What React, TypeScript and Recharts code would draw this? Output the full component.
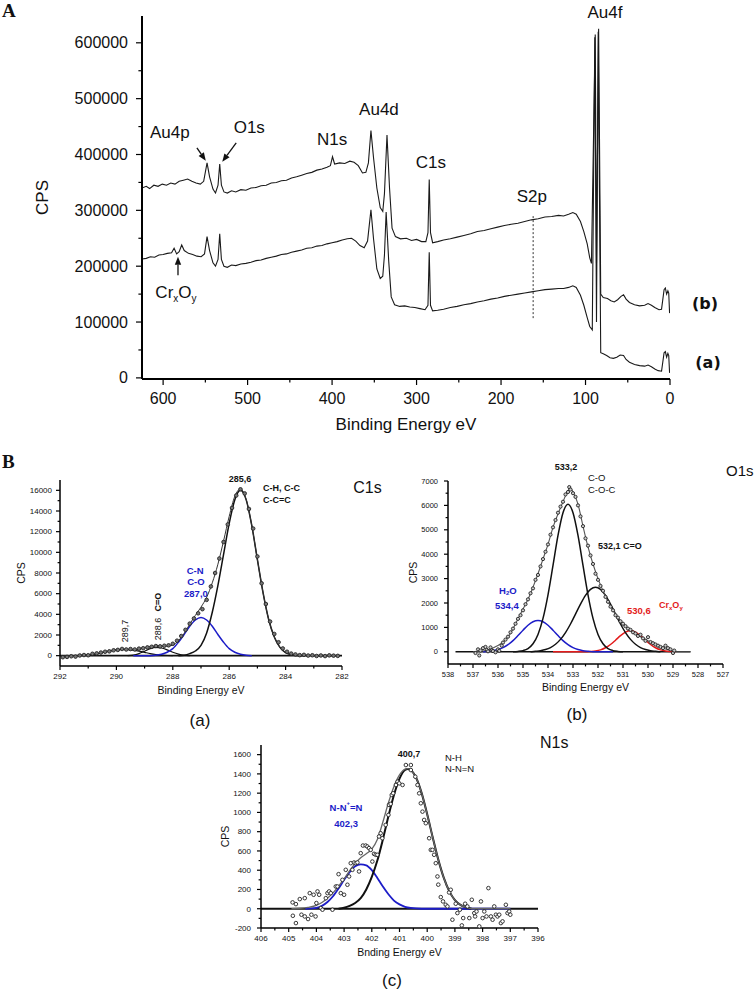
import React from "react";
import {
  ComposedChart,
  Line,
  Scatter,
  XAxis,
  YAxis,
  ReferenceDot,
  ReferenceLine,
  Label,
} from "recharts";

const SANS = "'Liberation Sans', Arial, sans-serif";
const SERIF = "'Liberation Serif', 'Times New Roman', serif";
const BLUE = "#1c1cc8";
const RED = "#e31b1b";

// ---------- A: survey spectra [binding energy, CPS] ----------
const surveyB = [
  [625, 340000], [620, 343000], [616, 339000], [611, 345000], [606, 343000], [601, 347000],
  [596, 345000], [591, 349000], [586, 347000], [581, 352000], [576, 354000], [571, 356000],
  [566, 352000], [561, 349000], [556, 347000], [552, 352000], [548, 385000], [545, 360000],
  [541, 338000], [538, 331000], [535, 345000], [533, 383000], [531, 345000], [528, 333000],
  [524, 331000], [519, 335000], [514, 333000], [508, 337000], [502, 336000], [496, 340000],
  [490, 341000], [484, 344000], [478, 345000], [472, 349000], [466, 350000], [460, 353000],
  [454, 354000], [448, 358000], [442, 360000], [436, 363000], [430, 366000], [424, 368000],
  [418, 372000], [412, 374000], [406, 377000], [402, 380000], [399.5, 396000], [397, 383000],
  [391, 385000], [385, 384000], [379, 388000], [374, 386000], [369, 380000], [364, 367000],
  [360, 368000], [357, 385000], [354, 443000], [351, 395000], [347, 340000], [343, 305000],
  [340, 298000], [338, 330000], [335, 435000], [332, 340000], [329, 268000], [325, 253000],
  [319, 249000], [312, 250000], [306, 246000], [300, 248000], [294, 244000], [289, 244000],
  [286.5, 260000], [285, 355000], [283.5, 260000], [281, 242000], [275, 244000], [268, 247000],
  [260, 249000], [252, 252000], [244, 255000], [236, 258000], [228, 262000], [220, 264000],
  [212, 267000], [204, 270000], [196, 273000], [188, 275000], [180, 277000], [172, 280000],
  [164, 283000], [156, 285000], [148, 288000], [140, 289000], [132, 291000], [126, 290000],
  [120, 293000], [115, 296000], [111, 293000], [106, 280000], [102, 262000], [98, 240000],
  [95, 215000], [93, 205000], [88.5, 615000], [87, 205000], [84.5, 625000], [82, 150000],
  [79, 144000], [74, 142000], [70, 138000], [66, 136000], [62, 140000], [58, 146000],
  [55, 149000], [52, 141000], [48, 135000], [42, 131000], [36, 129000], [30, 130000],
  [26, 133000], [22, 130000], [18, 126000], [13, 122000], [10, 123000], [7, 158000],
  [5.5, 161000], [4, 150000], [2.5, 156000], [1.5, 152000], [0.5, 116000],
];

const surveyA = [
  [625, 213000], [620, 214000], [615, 217000], [610, 216000], [605, 220000], [600, 221000],
  [595, 223000], [590, 224000], [587, 232000], [584, 222000], [581, 226000], [578, 238000],
  [575, 228000], [570, 223000], [565, 221000], [560, 218000], [555, 217000], [551, 222000],
  [548, 253000], [545, 228000], [541, 206000], [538, 200000], [535, 212000], [533, 258000],
  [531, 212000], [528, 200000], [524, 198000], [519, 202000], [514, 201000], [508, 204000],
  [502, 205000], [496, 207000], [490, 210000], [484, 211000], [478, 214000], [472, 216000],
  [466, 218000], [460, 221000], [454, 222000], [448, 225000], [442, 227000], [436, 229000],
  [430, 232000], [424, 233000], [418, 236000], [412, 237000], [406, 240000], [400, 242000],
  [394, 244000], [388, 247000], [382, 249000], [377, 250000], [372, 245000], [367, 237000],
  [362, 233000], [358, 245000], [354, 301000], [351, 250000], [347, 195000], [343, 178000],
  [340, 182000], [338, 220000], [336, 297000], [333, 210000], [330, 145000], [326, 131000],
  [320, 128000], [314, 129000], [308, 127000], [302, 126000], [296, 124000], [290, 122000],
  [286.5, 130000], [285, 225000], [283.5, 130000], [281, 120000], [275, 121000], [268, 123000],
  [260, 126000], [252, 128000], [244, 131000], [236, 133000], [228, 136000], [220, 138000],
  [212, 141000], [204, 143000], [196, 146000], [188, 148000], [180, 150000], [172, 152000],
  [164, 154000], [156, 156000], [148, 158000], [140, 159000], [132, 160000], [126, 160000],
  [120, 162000], [115, 165000], [111, 162000], [106, 148000], [102, 130000], [98, 108000],
  [95, 92000], [92, 86000], [89, 610000], [87, 100000], [85, 620000], [82, 45000],
  [79, 43000], [75, 40000], [71, 36000], [67, 35000], [63, 37000], [59, 41000],
  [55, 40000], [52, 33000], [48, 28000], [42, 24000], [36, 22000], [30, 21000],
  [26, 23000], [22, 20000], [18, 16000], [14, 13000], [10, 12000], [7, 45000],
  [5.5, 47000], [4, 37000], [2.5, 44000], [1.5, 40000], [0.5, 9000],
];

const surveyXTicks = [0, 50, 100, 150, 200, 250, 300, 350, 400, 450, 500, 550, 600];
const surveyYTicks = [
  0, 50000, 100000, 150000, 200000, 250000, 300000, 350000, 400000, 450000, 500000, 550000, 600000,
];

// ---------- B(a): C1s ----------
const c1sPoints = [
  [291.9, -150], [291.75, -120], [291.6, -60], [291.45, -90], [291.3, 20], [291.15, 60],
  [291.0, 40], [290.85, 180], [290.7, 220], [290.55, 300], [290.4, 380], [290.25, 420],
  [290.1, 520], [289.95, 560], [289.8, 650], [289.65, 600], [289.5, 640], [289.35, 600],
  [289.2, 680], [289.05, 720], [288.9, 800], [288.75, 860], [288.6, 930], [288.45, 900],
  [288.3, 960], [288.15, 1000], [288.0, 1150], [287.85, 1450], [287.7, 1900], [287.55, 2500],
  [287.4, 3100], [287.25, 3600], [287.1, 4100], [286.95, 4500], [286.8, 5400], [286.65, 6700],
  [286.5, 8000], [286.35, 9400], [286.2, 11000], [286.05, 12700], [285.9, 14300], [285.75, 15500],
  [285.6, 16100], [285.45, 15700], [285.3, 14200], [285.15, 12300], [285.0, 9600], [284.85, 7000],
  [284.7, 5000], [284.55, 3300], [284.4, 2100], [284.25, 1300], [284.1, 700], [283.95, 380],
  [283.8, 200], [283.65, 120], [283.5, 50], [283.35, 80], [283.2, 10], [283.05, 40],
  [282.9, -30], [282.75, 20], [282.6, -40], [282.45, 30], [282.3, 0], [282.15, -20],
];
const c1sEnvelope = [
  [292.0, 0], [291.6, 10], [291.2, 30], [291.0, 70], [290.8, 140], [290.6, 240], [290.4, 360],
  [290.2, 480], [290.0, 570], [289.8, 610], [289.6, 610], [289.4, 590], [289.2, 640], [289.0, 750],
  [288.8, 880], [288.6, 930], [288.4, 920], [288.2, 920], [288.0, 1020], [287.8, 1450],
  [287.6, 2140], [287.4, 3050], [287.2, 3900], [287.0, 4700], [286.8, 5650], [286.6, 7050],
  [286.4, 8850], [286.2, 11100], [286.0, 13480], [285.8, 15430], [285.6, 16130], [285.4, 15130],
  [285.2, 12600], [285.0, 9300], [284.8, 6100], [284.6, 3500], [284.4, 1800], [284.2, 800],
  [284.0, 300], [283.8, 100], [283.6, 20], [283.0, 0], [282.2, 0],
];
const c1sMain = [
  [287.8, 0], [287.6, 50], [287.4, 200], [287.2, 450], [287.0, 1000], [286.8, 2200], [286.6, 4200],
  [286.4, 6800], [286.2, 9800], [286.0, 12800], [285.8, 15100], [285.6, 16000], [285.4, 15100],
  [285.2, 12600], [285.0, 9300], [284.8, 6100], [284.6, 3500], [284.4, 1800], [284.2, 800],
  [284.0, 300], [283.8, 100], [283.6, 20], [283.4, 0],
];
const c1sCN = [
  [289.4, 0], [288.8, 0], [288.6, 30], [288.4, 130], [288.2, 330], [288.0, 680], [287.8, 1300],
  [287.6, 2050], [287.4, 2850], [287.2, 3450], [287.0, 3700], [286.8, 3450], [286.6, 2850],
  [286.4, 2050], [286.2, 1300], [286.0, 680], [285.8, 330], [285.6, 130], [285.4, 30], [285.2, 0],
];
const c1sCdO = [
  [289.6, 0], [289.4, 50], [289.2, 200], [289.0, 430], [288.8, 680], [288.6, 800], [288.4, 740],
  [288.2, 560], [288.0, 330], [287.8, 150], [287.6, 40], [287.4, 0],
];
const c1s289 = [
  [291.4, 0], [291.2, 20], [291.0, 60], [290.8, 130], [290.6, 230], [290.4, 350], [290.2, 470],
  [290.0, 560], [289.8, 600], [289.6, 590], [289.4, 530], [289.2, 440], [289.0, 320], [288.8, 200],
  [288.6, 110], [288.4, 50], [288.2, 15], [288.0, 0],
];
const c1sBase = [[292, 0], [282, 0]];
const c1sXTicks = [282, 283, 284, 285, 286, 287, 288, 289, 290, 291, 292];
const c1sYTicks = [
  0, 1000, 2000, 3000, 4000, 5000, 6000, 7000, 8000, 9000, 10000, 11000, 12000, 13000, 14000, 15000, 16000,
];

// ---------- B(b): O1s ----------
const o1sPoints = [
  [536.9, -50], [536.8, 100], [536.75, -150], [536.7, 50], [536.6, 150], [536.5, 200],
  [536.45, 80], [536.4, 20], [536.3, 180], [536.25, 60], [536.2, 30], [536.1, -20],
  [536.0, 100], [535.95, 40], [535.85, 250], [535.8, 380], [535.7, 500], [535.6, 620],
  [535.5, 800], [535.4, 950], [535.3, 1150], [535.2, 1350], [535.1, 1500], [535.0, 1700],
  [534.9, 1950], [534.8, 2150], [534.7, 2400], [534.6, 2600], [534.5, 2950], [534.4, 3150],
  [534.3, 3500], [534.2, 3800], [534.1, 4100], [534.0, 4400], [533.9, 4800], [533.8, 5100],
  [533.7, 5400], [533.6, 5700], [533.5, 5950], [533.4, 6150], [533.3, 6450], [533.2, 6550],
  [533.15, 6750], [533.1, 6650], [533.0, 6500], [532.9, 6350], [532.8, 6000], [532.7, 5550],
  [532.6, 5150], [532.5, 4650], [532.4, 4350], [532.3, 3950], [532.2, 3600], [532.1, 3200],
  [532.0, 2950], [531.9, 2700], [531.8, 2500], [531.7, 2250], [531.6, 2050], [531.5, 1850],
  [531.4, 1700], [531.3, 1500], [531.2, 1400], [531.1, 1250], [531.0, 1150], [530.9, 1050],
  [530.8, 950], [530.7, 900], [530.6, 800], [530.5, 750], [530.4, 650], [530.3, 700],
  [530.2, 550], [530.1, 450], [530.0, 600], [529.9, 400], [529.8, 350], [529.7, 300],
  [529.6, 250], [529.5, 200], [529.4, 150], [529.3, 250], [529.2, 150], [529.1, 100],
  [529.0, -50], [528.95, 50],
];
const o1sEnvelope = [
  [537.0, 0], [536.8, 10], [536.6, 30], [536.4, 80], [536.2, 160], [536.0, 260], [535.8, 400],
  [535.6, 600], [535.4, 950], [535.2, 1350], [535.0, 1750], [534.8, 2150], [534.6, 2650],
  [534.4, 3200], [534.2, 3800], [534.0, 4400], [533.8, 5100], [533.6, 5650], [533.4, 6150],
  [533.2, 6600], [533.1, 6700], [533.0, 6550], [532.8, 6050], [532.6, 5150], [532.4, 4300],
  [532.2, 3600], [532.0, 3000], [531.8, 2500], [531.6, 2050], [531.4, 1700], [531.2, 1400],
  [531.0, 1150], [530.8, 950], [530.6, 800], [530.4, 680], [530.2, 560], [530.0, 450],
  [529.8, 350], [529.6, 250], [529.4, 160], [529.2, 80], [529.0, 30], [528.8, 0], [528.3, 0],
];
const o1sMain = [
  [535.4, 0], [535.2, 16], [535.0, 49], [534.8, 134], [534.6, 330], [534.4, 712], [534.2, 1368],
  [534.0, 2335], [533.8, 3540], [533.6, 4770], [533.4, 5700], [533.2, 6050], [533.0, 5700],
  [532.8, 4770], [532.6, 3540], [532.4, 2335], [532.2, 1368], [532.0, 712], [531.8, 330],
  [531.6, 134], [531.4, 49], [531.2, 16], [531.0, 0],
];
const o1sCdO = [
  [534.7, 0], [534.5, 21], [534.3, 45], [534.1, 91], [533.9, 173], [533.7, 308], [533.5, 509],
  [533.3, 787], [533.1, 1140], [532.9, 1545], [532.7, 1955], [532.5, 2315], [532.3, 2560],
  [532.1, 2650], [531.9, 2560], [531.7, 2315], [531.5, 1955], [531.3, 1545], [531.1, 1140],
  [530.9, 787], [530.7, 509], [530.5, 308], [530.3, 173], [530.1, 91], [529.9, 45], [529.7, 21],
  [529.5, 0],
];
const o1sH2O = [
  [536.6, 0], [536.4, 22], [536.2, 47], [536.0, 93], [535.8, 173], [535.6, 295], [535.4, 460],
  [535.2, 667], [535.0, 885], [534.8, 1090], [534.6, 1230], [534.4, 1280], [534.2, 1230],
  [534.0, 1090], [533.8, 885], [533.6, 667], [533.4, 460], [533.2, 295], [533.0, 173],
  [532.8, 93], [532.6, 47], [532.4, 22], [532.2, 5], [531.4, 0],
];
const o1sCrO = [
  [533.8, 0], [532.5, 0], [532.3, 13], [532.1, 34], [531.9, 80], [531.7, 165], [531.5, 300],
  [531.3, 475], [531.1, 660], [530.9, 805], [530.7, 860], [530.5, 805], [530.3, 660],
  [530.1, 475], [529.9, 300], [529.7, 165], [529.5, 80], [529.3, 34], [529.1, 13], [528.9, 0],
];
const o1sBase = [[537.7, 0], [528.3, 0]];
const o1sXTicks = [
  527, 527.5, 528, 528.5, 529, 529.5, 530, 530.5, 531, 531.5, 532, 532.5, 533, 533.5, 534, 534.5,
  535, 535.5, 536, 536.5, 537, 537.5, 538,
];
const o1sYTicks = [0, 500, 1000, 1500, 2000, 2500, 3000, 3500, 4000, 4500, 5000, 5500, 6000, 6500, 7000];

// ---------- B(c): N1s ----------
const n1sPoints = [
  [404.86, 66], [404.74, 48], [404.85, -73], [404.74, -149], [404.6, 100], [404.54, -62],
  [404.42, 110], [404.42, -80], [404.3, -107], [404.24, 162], [404.18, -62], [404.1, 145],
  [404.03, -80], [404.0, 59], [403.96, 180], [403.9, 145], [403.84, 7], [403.78, -10],
  [403.66, 110], [403.6, 162], [403.54, 180], [403.48, 162], [403.42, -10], [403.3, 231],
  [403.24, 231], [403.2, 359], [403.12, 162], [403.06, 300], [403.0, 145], [402.94, 404],
  [402.88, 249], [402.82, 335], [402.76, 473], [402.7, 404], [402.64, 480], [402.58, 473],
  [402.52, 480], [402.46, 387], [402.4, 577], [402.32, 656], [402.22, 656], [402.16, 646],
  [402.1, 629], [402.04, 611], [401.98, 490], [401.92, 570], [401.86, 560], [401.8, 560],
  [401.74, 750], [401.68, 784], [401.62, 732], [401.5, 870], [401.4, 974], [401.38, 1078],
  [401.32, 1088], [401.28, 1181], [401.23, 1199], [401.13, 1285], [401.07, 1319], [401.01, 1302],
  [400.89, 1285], [400.77, 1492], [400.59, 1492], [400.59, 1440], [400.43, 1371], [400.35, 1285],
  [400.29, 1198], [400.23, 1095], [400.17, 1008], [400.11, 922], [400.05, 888], [399.93, 732],
  [399.87, 611], [399.81, 611], [399.75, 560], [399.69, 473], [399.63, 335], [399.6, 250],
  [399.51, 121], [399.43, 76], [399.33, 41], [399.27, 24], [399.21, 169], [399.15, 197],
  [399.09, -114], [398.97, 52], [398.91, -45], [398.82, -10], [398.75, -173], [398.7, -97],
  [398.63, 52], [398.55, 24], [398.48, -97], [398.39, 93], [398.3, -45], [398.27, -80],
  [398.22, -28], [398.12, -183], [398.06, 76], [398.0, -97], [397.94, -28], [397.86, -80],
  [397.79, 214], [397.7, -80], [397.64, -114], [397.58, 24], [397.52, -62], [397.46, -80],
  [397.4, -62], [397.34, -149], [397.28, -131], [397.16, 41], [397.1, -45], [397.04, -28],
  [397.0, -62],
];
const n1sEnvelope = [
  [404.9, 0], [404.6, 5], [404.3, 15], [404.0, 35], [403.8, 65], [403.6, 110], [403.4, 165],
  [403.2, 235], [403.0, 310], [402.8, 395], [402.6, 470], [402.4, 530], [402.2, 570], [402.0, 620],
  [401.8, 720], [401.6, 900], [401.4, 1100], [401.2, 1270], [401.0, 1390], [400.8, 1450],
  [400.7, 1455], [400.6, 1440], [400.4, 1360], [400.2, 1200], [400.0, 980], [399.8, 740],
  [399.6, 510], [399.4, 320], [399.2, 180], [399.0, 90], [398.8, 40], [398.6, 15], [398.4, 0],
  [397.0, 0],
];
const n1sMain = [
  [403.2, 0], [403.0, 10], [402.8, 30], [402.6, 60], [402.4, 110], [402.2, 200], [402.0, 330],
  [401.8, 500], [401.6, 720], [401.4, 960], [401.2, 1180], [401.0, 1350], [400.8, 1440],
  [400.7, 1450], [400.6, 1440], [400.4, 1360], [400.2, 1200], [400.0, 980], [399.8, 740],
  [399.6, 510], [399.4, 320], [399.2, 180], [399.0, 90], [398.8, 40], [398.6, 15], [398.4, 0],
];
const n1sAzo = [
  [404.4, 0], [404.0, 10], [403.8, 30], [403.6, 70], [403.4, 130], [403.2, 210], [403.0, 300],
  [402.8, 380], [402.6, 440], [402.4, 460], [402.2, 450], [402.0, 400], [401.8, 320], [401.6, 230],
  [401.4, 150], [401.2, 85], [401.0, 45], [400.8, 20], [400.6, 8], [400.2, 0], [397.0, 0],
];
const n1sBase = [[406, 0], [396, 0]];
const n1sXTicks = [
  396, 396.5, 397, 397.5, 398, 398.5, 399, 399.5, 400, 400.5, 401, 401.5, 402, 402.5, 403, 403.5,
  404, 404.5, 405, 405.5, 406,
];
const n1sYTicks = [
  -200, -100, 0, 100, 200, 300, 400, 500, 600, 700, 800, 900, 1000, 1100, 1200, 1300, 1400, 1500, 1600,
];

const pts = (a: number[][]) => a.map(([x, y]) => ({ x, y }));

// ---------- helpers ----------
const isMajor = (v: number, every: number) => Math.abs(v / every - Math.round(v / every)) < 1e-6;

const bottomTick = (every: number, fs: number, len: number, gap: number) => (p: any) => {
  const v = Number(p.payload?.value);
  const major = isMajor(v, every);
  return (
    <g>
      <line x1={p.x} x2={p.x} y1={p.y} y2={p.y + (major ? len : len * 0.6)} stroke="#000" strokeWidth={1.2} />
      {major && (
        <text x={p.x} y={p.y + len + gap + fs * 0.8} textAnchor="middle" fontSize={fs} fontFamily={SANS} fill="#111">
          {v}
        </text>
      )}
    </g>
  );
};

const leftTick = (every: number, fs: number, len: number, gap: number) => (p: any) => {
  const v = Number(p.payload?.value);
  const major = isMajor(v, every);
  return (
    <g>
      <line x1={p.x} x2={p.x - (major ? len : len * 0.6)} y1={p.y} y2={p.y} stroke="#000" strokeWidth={1.2} />
      {major && (
        <text x={p.x - len - gap} y={p.y + fs * 0.35} textAnchor="end" fontSize={fs} fontFamily={SANS} fill="#111">
          {v}
        </text>
      )}
    </g>
  );
};

const yTitle = (text: string, fs: number, dx: number) => (p: any) => {
  const vb = p.viewBox ?? { x: 0, y: 0, width: 0, height: 0 };
  const cx = vb.x + dx;
  const cy = vb.y + vb.height / 2;
  return (
    <text x={cx} y={cy} transform={`rotate(-90 ${cx} ${cy})`} textAnchor="middle" dominantBaseline="central"
      fontSize={fs} fontFamily={SANS} fill="#111">
      {text}
    </text>
  );
};

const xTitle = (text: string, fs: number, dy: number) => (p: any) => {
  const vb = p.viewBox ?? { x: 0, y: 0, width: 0, height: 0 };
  return (
    <text x={vb.x + vb.width / 2} y={vb.y + dy} textAnchor="middle" dominantBaseline="central"
      fontSize={fs} fontFamily={SANS} fill="#111">
      {text}
    </text>
  );
};

type NoteOpts = {
  size?: number;
  color?: string;
  weight?: string | number;
  anchor?: "start" | "middle" | "end";
  rotate?: number;
  family?: string;
};

const note = (key: string, x: number, y: number, content: React.ReactNode, o: NoteOpts = {}) => (
  <ReferenceDot
    key={key}
    x={x}
    y={y}
    r={1}
    ifOverflow="visible"
    shape={(p: any) => (
      <text
        x={p.cx}
        y={p.cy}
        textAnchor={o.anchor ?? "middle"}
        dominantBaseline="central"
        fontSize={o.size ?? 9}
        fontWeight={o.weight ?? "normal"}
        fontFamily={o.family ?? SANS}
        fill={o.color ?? "#111"}
        transform={o.rotate ? `rotate(${o.rotate} ${p.cx} ${p.cy})` : undefined}
      >
        {content}
      </text>
    )}
  />
);

const arrow = (key: string, from: number[], to: number[]) => (
  <ReferenceLine
    key={key}
    segment={[{ x: from[0], y: from[1] }, { x: to[0], y: to[1] }]}
    ifOverflow="visible"
    stroke="#111"
    shape={(p: any) => {
      const { x1, y1, x2, y2 } = p;
      const a = Math.atan2(y2 - y1, x2 - x1);
      const h = 8;
      const w = 3.2;
      const bx = x2 - h * Math.cos(a);
      const by = y2 - h * Math.sin(a);
      const px = -Math.sin(a) * w;
      const py = Math.cos(a) * w;
      return (
        <g>
          <line x1={x1} y1={y1} x2={bx} y2={by} stroke="#111" strokeWidth={1.3} />
          <polygon points={`${x2},${y2} ${bx + px},${by + py} ${bx - px},${by - py}`} fill="#111" />
        </g>
      );
    }}
  />
);

const dotShape = (r: number, fill: string) => (p: any) => (
  <circle cx={p.cx} cy={p.cy} r={r} fill={fill} stroke="#222" strokeWidth={0.9} />
);

const axisLine = (w: number) => ({ stroke: "#000", strokeWidth: w });

// ---------- charts ----------
const SurveyChart = () => {
  const big = { size: 17 };
  return (
    <ComposedChart width={755} height={440} margin={{ top: 16, right: 85, bottom: 11, left: 0 }}>
      <XAxis dataKey="x" type="number" domain={[0, 625]} reversed allowDataOverflow ticks={surveyXTicks}
        interval={0} tickSize={0} tickMargin={0} tickLine={false} tick={bottomTick(100, 16, 6, 6)}
        height={50} axisLine={axisLine(2)}>
        <Label content={xTitle("Binding Energy eV", 17, 45)} />
      </XAxis>
      <YAxis type="number" domain={[-2000, 648000]} allowDataOverflow ticks={surveyYTicks} interval={0}
        tickSize={0} tickMargin={0} tickLine={false} tick={leftTick(100000, 16, 6, 8)} width={142}
        axisLine={axisLine(2)}>
        <Label content={yTitle("CPS", 17, 42)} />
      </YAxis>
      <Line data={pts(surveyB)} dataKey="y" type="linear" dot={false} stroke="#1a1a1a" strokeWidth={1.1}
        isAnimationActive={false} />
      <Line data={pts(surveyA)} dataKey="y" type="linear" dot={false} stroke="#1a1a1a" strokeWidth={1.1}
        isAnimationActive={false} />
      <ReferenceLine segment={[{ x: 162, y: 107000 }, { x: 162, y: 292000 }]} ifOverflow="visible"
        stroke="#333" strokeWidth={1} strokeDasharray="2 2" />
      {arrow("ar-au4p", [560, 412000], [549.5, 389000])}
      {arrow("ar-o1s", [513.5, 421000], [530, 387000])}
      {arrow("ar-cr", [582.4, 184000], [582.4, 217000])}
      {note("au4p", 592, 439000, "Au4p", big)}
      {note("o1s", 498, 448000, "O1s", big)}
      {note("n1s", 400, 426000, "N1s", big)}
      {note("au4d", 344.5, 480000, "Au4d", big)}
      {note("c1s", 283, 385000, "C1s", big)}
      {note("s2p", 163.5, 324000, "S2p", big)}
      {note("au4f", 77, 654000, "Au4f", big)}
      {note("lb", -41.5, 134000, "(b)", { size: 16, weight: "bold", family: "'DejaVu Sans', sans-serif" })}
      {note("la", -45, 27000, "(a)", { size: 16, weight: "bold", family: "'DejaVu Sans', sans-serif" })}
      {note(
        "crxoy",
        584.8,
        154000,
        <>
          <tspan>Cr</tspan>
          <tspan fontSize={10} dy={6}>x</tspan>
          <tspan dy={-6}>O</tspan>
          <tspan fontSize={10} dy={6}>y</tspan>
        </>,
        big
      )}
    </ComposedChart>
  );
};

const C1sChart = () => (
  <ComposedChart width={400} height={270} margin={{ top: 40, right: 58, bottom: 14, left: 0 }}>
    <XAxis dataKey="x" type="number" domain={[282, 292]} reversed allowDataOverflow ticks={c1sXTicks}
      interval={0} tickSize={0} tickMargin={0} tickLine={false} tick={bottomTick(2, 8, 4, 3)} height={30}
      axisLine={axisLine(1.5)}>
      <Label content={xTitle("Binding Energy eV", 10.5, 24)} />
    </XAxis>
    <YAxis type="number" domain={[-1000, 17000]} allowDataOverflow ticks={c1sYTicks} interval={0}
      tickSize={0} tickMargin={0} tickLine={false} tick={leftTick(2000, 8, 4, 4)} width={60}
      axisLine={axisLine(1.5)}>
      <Label content={yTitle("CPS", 10.5, 21)} />
    </YAxis>
    <Line data={pts(c1sBase)} dataKey="y" type="linear" dot={false} stroke="#111" strokeWidth={1.6} isAnimationActive={false} />
    <Line data={pts(c1s289)} dataKey="y" type="monotone" dot={false} stroke="#111" strokeWidth={1.2} isAnimationActive={false} />
    <Line data={pts(c1sCdO)} dataKey="y" type="monotone" dot={false} stroke="#111" strokeWidth={1.2} isAnimationActive={false} />
    <Line data={pts(c1sCN)} dataKey="y" type="monotone" dot={false} stroke={BLUE} strokeWidth={1.5} isAnimationActive={false} />
    <Line data={pts(c1sMain)} dataKey="y" type="monotone" dot={false} stroke="#111" strokeWidth={1.5} isAnimationActive={false} />
    <Scatter data={pts(c1sPoints)} dataKey="y" shape={dotShape(1.8, "#777")} isAnimationActive={false} />
    <Line data={pts(c1sEnvelope)} dataKey="y" type="monotone" dot={false} stroke="#333" strokeWidth={1} isAnimationActive={false} />
    {note("c1-pk", 285.62, 17100, "285,6", { weight: "bold" })}
    {note("c1-ch", 284.8, 16230, "C-H, C-C", { anchor: "start", weight: "bold" })}
    {note("c1-cc", 284.8, 15060, "C-C=C", { anchor: "start", weight: "bold" })}
    {note("c1-cn", 287.21, 8290, "C-N", { color: BLUE, weight: "bold", size: 9.5 })}
    {note("c1-co", 287.18, 7130, "C-O", { color: BLUE, weight: "bold", size: 9.5 })}
    {note("c1-287", 287.18, 5970, "287,0", { color: BLUE, weight: "bold", size: 9.5 })}
    {note("c1-cdo", 288.52, 5190, "C=O", { weight: "bold", rotate: -90 })}
    {note("c1-2886", 288.52, 2580, "288,6", { rotate: -90 })}
    {note("c1-2897", 289.7, 2390, "289,7", { rotate: -90 })}
    {note("c1-title", 281.6, 16320, "C1s", { anchor: "start", size: 16 })}
  </ComposedChart>
);

const O1sChart = () => (
  <ComposedChart width={375} height={275} margin={{ top: 41, right: 32, bottom: 21, left: 0 }}>
    <XAxis dataKey="x" type="number" domain={[527, 538]} reversed allowDataOverflow ticks={o1sXTicks}
      interval={0} tickSize={0} tickMargin={0} tickLine={false} tick={bottomTick(1, 7.5, 4, 3)} height={30}
      axisLine={axisLine(1.5)}>
      <Label content={xTitle("Binding Energy eV", 10.5, 23)} />
    </XAxis>
    <YAxis type="number" domain={[-500, 7000]} allowDataOverflow ticks={o1sYTicks} interval={0}
      tickSize={0} tickMargin={0} tickLine={false} tick={leftTick(1000, 7.5, 4, 6)} width={68}
      axisLine={axisLine(1.5)}>
      <Label content={yTitle("CPS", 10.5, 33)} />
    </YAxis>
    <Line data={pts(o1sBase)} dataKey="y" type="linear" dot={false} stroke="#111" strokeWidth={1.6} isAnimationActive={false} />
    <Line data={pts(o1sCrO)} dataKey="y" type="monotone" dot={false} stroke={RED} strokeWidth={1.5} isAnimationActive={false} />
    <Line data={pts(o1sH2O)} dataKey="y" type="monotone" dot={false} stroke={BLUE} strokeWidth={1.5} isAnimationActive={false} />
    <Line data={pts(o1sCdO)} dataKey="y" type="monotone" dot={false} stroke="#111" strokeWidth={1.5} isAnimationActive={false} />
    <Line data={pts(o1sMain)} dataKey="y" type="monotone" dot={false} stroke="#111" strokeWidth={1.5} isAnimationActive={false} />
    <Scatter data={pts(o1sPoints)} dataKey="y" shape={dotShape(1.6, "#ccc")} isAnimationActive={false} />
    <Line data={pts(o1sEnvelope)} dataKey="y" type="monotone" dot={false} stroke="#555" strokeWidth={1.1} isAnimationActive={false} />
    {note("o1-pk", 533.28, 7574, "533,2", { weight: "bold" })}
    {note("o1-co", 532.4, 7123, "C-O", { anchor: "start", size: 9.5 })}
    {note("o1-coc", 532.4, 6672, "C-O-C", { anchor: "start", size: 9.5 })}
    {note("o1-cdo", 532.0, 4336, "532,1 C=O", { anchor: "start", weight: "bold" })}
    {note(
      "o1-h2o",
      535.96,
      2533,
      <>
        <tspan>H</tspan>
        <tspan fontSize={6} dy={3}>2</tspan>
        <tspan dy={-3}>O</tspan>
      </>,
      { anchor: "start", color: BLUE, weight: "bold", size: 9.5 }
    )}
    {note("o1-534", 536.12, 1878, "534,4", { anchor: "start", color: BLUE, weight: "bold", size: 9.5 })}
    {note("o1-530", 530.84, 1713, "530,6", { anchor: "start", color: RED, weight: "bold", size: 9.5 })}
    {note(
      "o1-cr",
      529.56,
      1918,
      <>
        <tspan>Cr</tspan>
        <tspan fontSize={6} dy={3}>x</tspan>
        <tspan dy={-3}>O</tspan>
        <tspan fontSize={6} dy={3}>y</tspan>
      </>,
      { anchor: "start", color: RED, weight: "bold", size: 9 }
    )}
    {note("o1-title", 526.88, 7410, "O1s", { anchor: "start", size: 15 })}
  </ComposedChart>
);

const N1sChart = () => (
  <ComposedChart width={380} height={265} margin={{ top: 45, right: 32, bottom: 7, left: 0 }}>
    <XAxis dataKey="x" type="number" domain={[396, 406]} reversed allowDataOverflow ticks={n1sXTicks}
      interval={0} tickSize={0} tickMargin={0} tickLine={false} tick={bottomTick(1, 8, 4, 3)} height={30}
      axisLine={axisLine(1.5)}>
      <Label content={xTitle("Bnding Energy eV", 10.5, 24)} />
    </XAxis>
    <YAxis type="number" domain={[-200, 1700]} allowDataOverflow ticks={n1sYTicks} interval={0}
      tickSize={0} tickMargin={0} tickLine={false} tick={leftTick(200, 8, 4, 6)} width={71}
      axisLine={axisLine(1.5)}>
      <Label content={yTitle("CPS", 10.5, 35)} />
    </YAxis>
    <Line data={pts(n1sBase)} dataKey="y" type="linear" dot={false} stroke="#111" strokeWidth={1.8} isAnimationActive={false} />
    <Line data={pts(n1sAzo)} dataKey="y" type="monotone" dot={false} stroke={BLUE} strokeWidth={1.8} isAnimationActive={false} />
    <Line data={pts(n1sMain)} dataKey="y" type="monotone" dot={false} stroke="#111" strokeWidth={2} isAnimationActive={false} />
    <Line data={pts(n1sEnvelope)} dataKey="y" type="monotone" dot={false} stroke="#666" strokeWidth={1.3} isAnimationActive={false} />
    <Scatter data={pts(n1sPoints)} dataKey="y" shape={dotShape(1.8, "#fff")} isAnimationActive={false} />
    {note("n1-pk", 400.66, 1607, "400,7", { weight: "bold" })}
    {note("n1-nh", 399.36, 1575, "N-H", { anchor: "start", size: 9.5 })}
    {note("n1-nnn", 399.36, 1461, "N-N=N", { anchor: "start", size: 9.5 })}
    {note(
      "n1-azo",
      402.93,
      1056,
      <>
        <tspan>N-N</tspan>
        <tspan fontSize={6} dy={-4}>+</tspan>
        <tspan dy={4}>=N</tspan>
      </>,
      { color: BLUE, weight: "bold", size: 9.5 }
    )}
    {note("n1-402", 402.93, 890, "402,3", { color: BLUE, weight: "bold", size: 9.5 })}
    {note("n1-title", 395.93, 1721, "N1s", { anchor: "start", size: 16 })}
  </ComposedChart>
);

export default function App() {
  return (
    <div style={{ position: "absolute", left: 0, top: 0, width: 755, height: 989, background: "#fff", overflow: "hidden" }}>
      <div style={{ position: "absolute", left: 0, top: 0 }}>
        <SurveyChart />
      </div>
      <div style={{ position: "absolute", left: 0, top: 440 }}>
        <C1sChart />
      </div>
      <div style={{ position: "absolute", left: 380, top: 440 }}>
        <O1sChart />
      </div>
      <div style={{ position: "absolute", left: 190, top: 700 }}>
        <N1sChart />
      </div>
      <svg width={755} height={989} style={{ position: "absolute", left: 0, top: 0, pointerEvents: "none" }}>
        <text x={2} y={17} fontFamily={SERIF} fontWeight="bold" fontSize={19} fill="#111">A</text>
        <text x={2} y={468} fontFamily={SERIF} fontWeight="bold" fontSize={19} fill="#111">B</text>
        <text x={200} y={720} textAnchor="middle" dominantBaseline="central" fontFamily={SANS} fontSize={17} fill="#111">(a)</text>
        <text x={577} y={714} textAnchor="middle" dominantBaseline="central" fontFamily={SANS} fontSize={17} fill="#111">(b)</text>
        <text x={392} y={980} textAnchor="middle" dominantBaseline="central" fontFamily={SANS} fontSize={17} fill="#111">(c)</text>
      </svg>
    </div>
  );
}
